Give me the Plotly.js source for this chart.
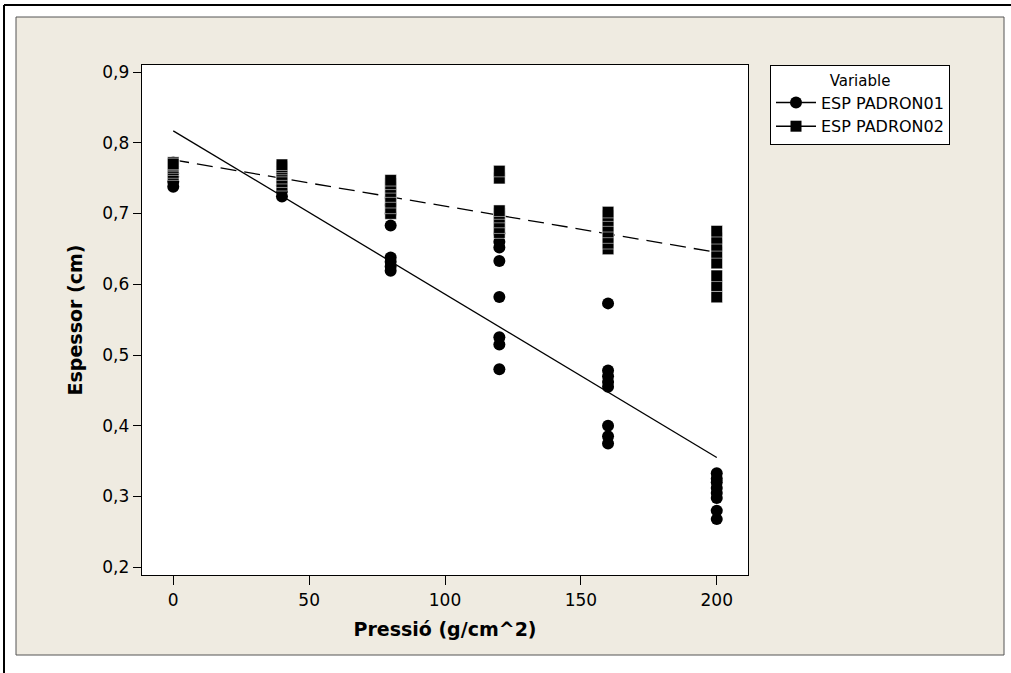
<!DOCTYPE html>
<html>
<head>
<meta charset="utf-8">
<script src="https://cdn.plot.ly/plotly-3.0.1.min.js"></script>
<style>
  html, body { margin: 0; padding: 0; background: #ffffff; }
  #chart { width: 1011px; height: 673px; }
</style>
</head>
<body>
<div id="chart"></div>
<script>
// Pressure levels (g/cm^2) at which thickness was measured
const pressureLevels = [0, 40, 80, 120, 160, 200];

// ESP PADRON01 thickness readings (cm), one list per pressure level
const padron01 = [
  [0.738, 0.745, 0.752, 0.757, 0.762, 0.766, 0.770, 0.772],
  [0.724, 0.732, 0.740, 0.746, 0.752, 0.757, 0.762, 0.766],
  [0.619, 0.625, 0.632, 0.638, 0.683, 0.700, 0.712, 0.722],
  [0.480, 0.515, 0.525, 0.582, 0.633, 0.652, 0.660, 0.672],
  [0.375, 0.385, 0.400, 0.455, 0.462, 0.470, 0.478, 0.573],
  [0.268, 0.280, 0.298, 0.305, 0.312, 0.320, 0.325, 0.333]
];

// ESP PADRON02 thickness readings (cm), one list per pressure level
const padron02 = [
  [0.755, 0.758, 0.762, 0.765, 0.768, 0.770, 0.772, 0.770],
  [0.740, 0.745, 0.750, 0.755, 0.760, 0.763, 0.766, 0.769],
  [0.700, 0.708, 0.716, 0.724, 0.731, 0.737, 0.742, 0.747],
  [0.673, 0.680, 0.688, 0.695, 0.700, 0.704, 0.750, 0.760],
  [0.650, 0.658, 0.666, 0.674, 0.682, 0.690, 0.697, 0.702],
  [0.582, 0.598, 0.612, 0.630, 0.645, 0.655, 0.665, 0.675]
];

const seriesNames = ['ESP PADRON01', 'ESP PADRON02'];
const xTicks = [0, 50, 100, 150, 200];
const yTicks = [0.2, 0.3, 0.4, 0.5, 0.6, 0.7, 0.8, 0.9];

// Flatten grouped readings into x/y point lists
function flatten(groups) {
  const xs = [], ys = [];
  groups.forEach((vals, i) => vals.forEach(v => { xs.push(pressureLevels[i]); ys.push(v); }));
  return { xs, ys };
}

// Ordinary least-squares fit evaluated at the ends of the pressure range
function fitLine(pts) {
  const n = pts.xs.length;
  const mx = pts.xs.reduce((a, b) => a + b, 0) / n;
  const my = pts.ys.reduce((a, b) => a + b, 0) / n;
  let sxy = 0, sxx = 0;
  for (let i = 0; i < n; i++) {
    sxy += (pts.xs[i] - mx) * (pts.ys[i] - my);
    sxx += (pts.xs[i] - mx) * (pts.xs[i] - mx);
  }
  const b = sxy / sxx, a = my - b * mx;
  const x0 = pressureLevels[0], x1 = pressureLevels[pressureLevels.length - 1];
  return { x: [x0, x1], y: [a + b * x0, a + b * x1] };
}

const p1 = flatten(padron01);
const p2 = flatten(padron02);
const f1 = fitLine(p1);
const f2 = fitLine(p2);

const FONT = 'DejaVu Sans, Verdana, sans-serif';

const traces = [
  { x: f1.x, y: f1.y, mode: 'lines', line: { color: '#000', width: 1.3 }, showlegend: false, hoverinfo: 'skip' },
  { x: f2.x, y: f2.y, mode: 'lines', line: { color: '#000', width: 1.3, dash: '16px,8px' }, showlegend: false, hoverinfo: 'skip' },
  { x: p1.xs, y: p1.ys, mode: 'markers', marker: { symbol: 'circle', size: 12, color: '#000' }, showlegend: false },
  { x: p2.xs, y: p2.ys, mode: 'markers', marker: { symbol: 'square', size: 11.5, color: '#000', line: { color: '#fff', width: 0.5 } }, showlegend: false },
  // legend keys
  { x: [null], y: [null], name: seriesNames[0], mode: 'lines+markers', line: { color: '#000', width: 1.5 }, marker: { symbol: 'circle', size: 12, color: '#000' } },
  { x: [null], y: [null], name: seriesNames[1], mode: 'lines+markers', line: { color: '#000', width: 1.5 }, marker: { symbol: 'square', size: 11, color: '#000' } }
];

// pixel -> paper helpers for the frame decorations
const L = 142, R = 263, T = 65, B = 98, W = 1011, H = 673;
const pw = W - L - R, ph = H - T - B;
const px = v => (v - L) / pw;
const py = v => (H - B - v) / ph;

const layout = {
  width: W, height: H,
  margin: { l: L, r: R, t: T, b: B },
  paper_bgcolor: '#ffffff',
  plot_bgcolor: '#ffffff',
  separators: ',.',
  font: { family: FONT, color: '#000', size: 15 },
  showlegend: true,
  xaxis: {
    range: [-11.5, 211.5],
    tickvals: xTicks,
    ticks: 'outside', ticklen: 9, tickwidth: 1, tickcolor: '#000',
    showline: true, linecolor: '#000', linewidth: 1.3, mirror: true,
    showgrid: false, zeroline: false,
    tickfont: { family: FONT, size: 17 },
    title: { text: 'Pressió (g/cm^2)', font: { family: FONT, size: 19, weight: 'bold' }, standoff: 14 }
  },
  yaxis: {
    range: [0.189, 0.91],
    tickvals: yTicks,
    tickformat: '.1f',
    ticks: 'outside', ticklen: 8, tickwidth: 1, tickcolor: '#000',
    showline: true, linecolor: '#000', linewidth: 1.3, mirror: true,
    showgrid: false, zeroline: false,
    tickfont: { family: FONT, size: 17 },
    title: { text: 'Espessor (cm)', font: { family: FONT, size: 19, weight: 'bold' }, standoff: 14 }
  },
  legend: {
    x: px(770), y: 1, xanchor: 'left', yanchor: 'top',
    bgcolor: '#ffffff', bordercolor: '#000', borderwidth: 1,
    font: { family: FONT, size: 16 },
    title: { text: 'Variable', side: 'top center', font: { family: FONT, size: 15 } },
    itemwidth: 40
  },
  shapes: [
    // beige panel behind the chart
    { type: 'rect', xref: 'paper', yref: 'paper', layer: 'below',
      x0: px(16), x1: px(1004), y0: py(655), y1: py(17),
      fillcolor: '#efebe1', line: { color: '#555', width: 1 } },
    // white plotting area
    { type: 'rect', xref: 'paper', yref: 'paper', layer: 'below',
      x0: 0, x1: 1, y0: 0, y1: 1, fillcolor: '#ffffff', line: { width: 0 } },
    // outer frame lines
    { type: 'line', xref: 'paper', yref: 'paper', x0: px(4), x1: px(1011), y0: py(5), y1: py(5), line: { color: '#000', width: 2 } },
    { type: 'line', xref: 'paper', yref: 'paper', x0: px(4), x1: px(4), y0: py(5), y1: py(673), line: { color: '#000', width: 2 } }
  ]
};

Plotly.newPlot('chart', traces, layout, { staticPlot: true, displayModeBar: false });
</script>
</body>
</html>
